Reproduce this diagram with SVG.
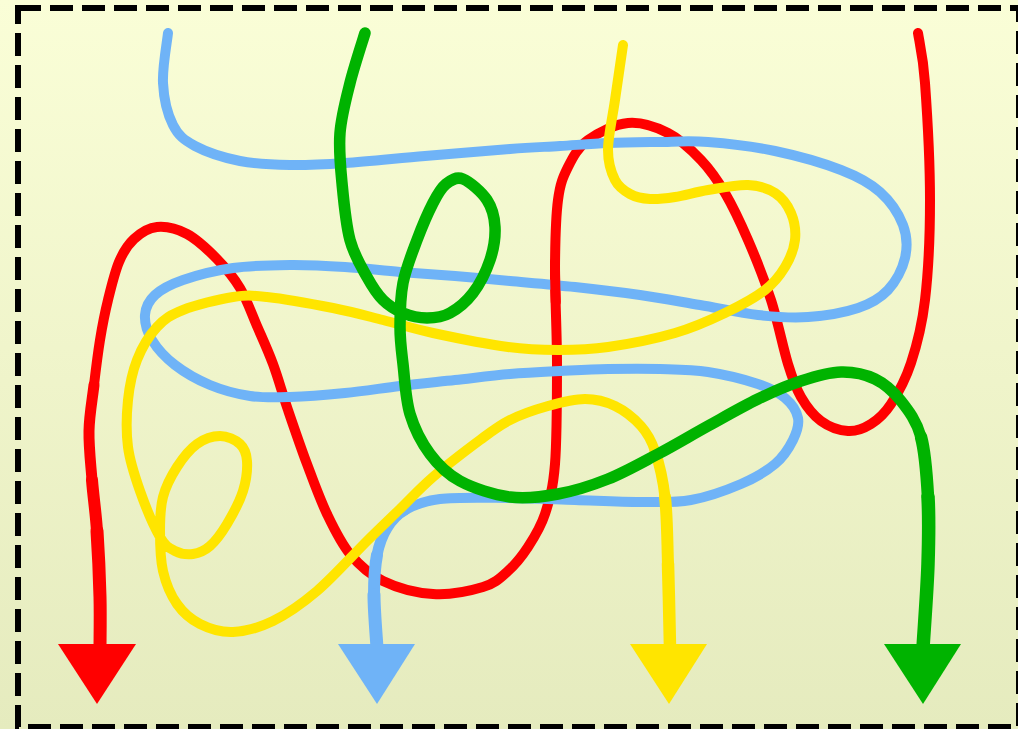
<svg xmlns="http://www.w3.org/2000/svg" width="1018" height="729" viewBox="0 0 1018 729">
<defs>
<linearGradient id="bg" x1="0" y1="0" x2="0" y2="1">
<stop offset="0" stop-color="#FAFED7"/>
<stop offset="1" stop-color="#E5EBBE"/>
</linearGradient>
<style>
.ln{fill:none;stroke-linecap:round;stroke-linejoin:round}
.r{stroke:#FF0000}.b{stroke:#6FB3F7}.y{stroke:#FFE500}.g{stroke:#00B300}
</style>
</defs>
<rect x="0" y="0" width="1018" height="729" fill="url(#bg)"/>
<rect x="18" y="8" width="1001" height="719" fill="none" stroke="#000" stroke-width="6" stroke-dasharray="23 9"/>
<g id="connectors">
<g id="red-line">
<path class="ln r" stroke-width="10" d="M918,33 C919.2,41.3 923,55.2 925,83 C927,110.8 930,163.8 930,200 C930,236.2 928.2,272.8 925,300 C921.8,327.2 916.7,345.7 911,363 C905.3,380.3 897.7,393.8 891,404 C884.3,414.2 878.2,419.5 871,424 C863.8,428.5 856.3,431.5 848,431 C839.7,430.5 828.8,426.7 821,421 C813.2,415.3 806.5,406.5 801,397 C795.5,387.5 793,380.2 788,364 C783,347.8 777.7,320.7 771,300 C764.3,279.3 755.7,257.8 748,240 C740.3,222.2 732.8,206.3 725,193 C717.2,179.7 710.5,170 701,160 C691.5,150 680.2,139.2 668,133 C655.8,126.8 641.3,121.8 628,123 C614.7,124.2 598,132.7 588,140 C578,147.3 573,157 568,167 C563,177 560.2,183.3 558,200 C555.8,216.7 555.2,239.7 555,267 C554.8,294.3 557,331.2 557,364 C557,396.8 557,439 555,464 C553,489 549.5,500.2 545,514 C540.5,527.8 534.2,537.5 528,547 C521.8,556.5 515.5,564.3 508,571 C500.5,577.7 495.5,583.2 483,587 C470.5,590.8 449.7,595 433,594 C416.3,593 396.8,587.7 383,581 S359.3,565.2 350,554 S334.2,529 327,514 S313.5,481.3 307,464 S293.7,426.7 288,410 S278.2,378 273,364 S262.5,338.7 257,326 S246.7,299.2 240,288 S225.8,268 217,259 S197,239.3 187,234 S165.8,226.2 157,227 S140.3,233.2 134,239 S123.3,251.8 119,262 S111.2,287 108,300 S102.3,325.8 100,340 S95.8,369.8 94,385"/>
<path class="ln r" stroke-width="11" d="M94,385 C92.2,400.2 89.3,415.2 89,431 S90.7,463.3 92,480"/>
<path class="ln r" stroke-width="12" d="M92,480 C93.3,496.7 95.7,511.5 97,531"/>
<path class="ln r" stroke-width="13" d="M97,531 C98.3,550.5 99.5,577.5 100,597 S100,639.5 100,648"/>
<polygon fill="#FF0000" points="58,644 136,644 97,704"/>
</g>
<g id="blue-line">
<path class="ln b" stroke-width="10" d="M168,33 C167.2,41.3 162.2,67.7 163,83 S167.7,114.5 173,125 S183.8,140 195,146 S224.2,157.8 240,161 S272.5,164.7 290,165 S322.5,164.5 345,163 S397.5,158.3 425,156 S487.5,150.7 510,149 S543.7,147 560,146 S591.7,143.7 608,143 S641.3,142.2 658,142 S688.5,140.5 708,142 S752.8,146.3 775,151 S823.5,163.2 841,170 S869.7,182.8 880,192 S898.8,214 903,225 S907.5,247.2 905,258 S895.8,281.7 888,290 S871.3,303.5 858,308 S824.7,315.8 808,317 S776,317 758,315 S719.7,308.3 700,305 S660.8,298 640,295 S596.7,289.3 575,287 S530,282.8 510,281 S473.3,277.5 455,276 S418.3,273.5 400,272 S363.3,268.2 345,267 S308.7,264.8 290,265 S250.8,265.5 233,268 S196,275.5 183,280 S161.3,289.2 155,295 S145.5,307.5 145,315 S147,331.7 152,340 S165.3,357.5 175,365 S197.5,379.8 210,385 S236.7,394 250,396 S274.2,397.5 290,397 S326.7,394.8 345,393 S381.7,388.2 400,386 S436.7,382 455,380 S492.5,375.5 510,374 S543.7,371.8 560,371 S591.3,369.3 608,369 S643.3,368.5 660,369 S691.7,369.5 708,372 S745.2,379.7 758,384 S778.3,392.3 785,398 S796.7,411 798,418 S796.8,432.3 793,440 S783.7,456.7 775,464 S755,478 741,484 S707.8,497 691,500 S659.3,502 640,502 S597,500.7 575,500 S530.5,498.2 508,498 S457.2,497 440,499 S413.8,505.2 405,510"/>
<path class="ln b" stroke-width="11" d="M405,510 C396.2,514.8 391.7,520.5 387,528 S379.2,543.8 377,555"/>
<path class="ln b" stroke-width="12" d="M377,555 C374.8,566.2 374,579.5 374,595"/>
<path class="ln b" stroke-width="13" d="M374,595 C374,610.5 376.5,639.2 377,648"/>
<polygon fill="#6FB3F7" points="338,644 415,644 377,704"/>
</g>
<g id="red-over-blue">
<path class="ln r" stroke-width="10" d="M555,262 C555,280 555.5,292 555.8,302"/>
</g>
<g id="yellow-line">
<path class="ln y" stroke-width="10" d="M623,45 C621.7,54.2 617.5,82.5 615,100 S608,136.7 608,150 S611.3,172.7 615,180 S624.2,190.8 630,194 S642.5,198.5 650,199 S665.3,198.5 675,197 S695.8,192 708,190 S736.8,184.5 748,185 S767.8,188.3 775,193 S787.7,205.2 791,213 S796,231 795,240 S790,258.7 785,267 S775,282.3 765,290 S740,305.8 725,313 S694.5,327.3 675,333 S627.5,344.2 608,347 S574.7,350 558,350 S528.8,349.8 508,347 S453.8,337.5 433,333 S399.7,324.2 383,320 S352.3,311.8 333,308 S283.7,298.8 267,297 S247,294.8 233,297 S195.7,305 183,310 S164.7,318.7 157,327 S141.8,347.8 137,360 S129.5,385.5 128,400 S126,431.8 128,447 S134.7,476 140,491 S154.2,527 160,537 S169.5,548.2 175,551 S187.2,554.8 193,554 S204.3,551 210,546 S221.5,533.2 227,524 S239.7,501.5 243,491 S247.5,468.8 247,461 S244.5,448.2 240,444 S227.2,436 220,436 S204.2,438.8 197,444 S182.7,458.2 177,467 S165.8,486.3 163,497 S160,518.7 160,531 S160.2,558.8 163,571 S170.8,595.2 177,604 S190.7,619.3 200,624 S220.8,632.5 233,632 S259,627.8 273,621 S301.3,604.3 317,591 S353.2,554.7 367,541 S389,519.7 400,509 S419.7,488.5 433,477 S467.2,449.5 480,440 S498.7,425.7 510,420 S535.5,409.5 548,406 S573.8,399 585,399 S605.7,401.5 615,406 S634.3,418.5 641,426 S651,439.2 655,451"/>
<path class="ln y" stroke-width="11" d="M655,451 C659,462.8 662.8,478.2 665,497"/>
<path class="ln y" stroke-width="12" d="M665,497 C667.2,515.8 667.2,538.8 668,564"/>
<path class="ln y" stroke-width="12.5" d="M668,564 C668.8,589.2 669.7,634 670,648"/>
<polygon fill="#FFE500" points="630,644 707,644 669,704"/>
</g>
<g id="green-line">
<path class="ln g" stroke-width="11.5" d="M365,33 C362.5,41.3 354.2,66.3 350,83 S341.3,116.3 340,133 S340.3,165.2 342,183 S345.8,224.3 350,240 S361.5,267 367,277 S377,294 383,300 S395.7,310 403,313 S419.2,318 427,318 S442.3,317.2 450,313 S466.3,301.8 473,293 S486.3,271 490,260 S495.5,237 495,227 S492.3,208 487,200 S469.8,181.7 463,179 S451,180 446,184 S437.8,193.7 433,203 S422,226.7 417,240 S405.8,268.5 403,283 S400,313.5 400,327 S401.3,349.5 403,364 S405.5,399 410,414 S421.7,442.8 430,454 S446.7,473.8 460,481 S493.7,494.8 510,497 S541.7,497 558,494 S591.3,485.7 608,479 S641.3,462.8 658,454 S691.3,435.2 708,426 S742.5,406.5 758,399 S787.2,385.5 801,381 S828.7,372.3 841,372 S865,374.2 875,379 S893.3,391.3 901,401 S916.5,421 921,437"/>
<path class="ln g" stroke-width="12.5" d="M921,437 C925.5,453 926.8,475.8 928,497"/>
<path class="ln g" stroke-width="13.5" d="M928,497 C929.2,518.2 928.8,538.8 928,564 S923.8,634 923,648"/>
<polygon fill="#00B300" points="884,644 961,644 923,704"/>
</g>
</g>
</svg>
